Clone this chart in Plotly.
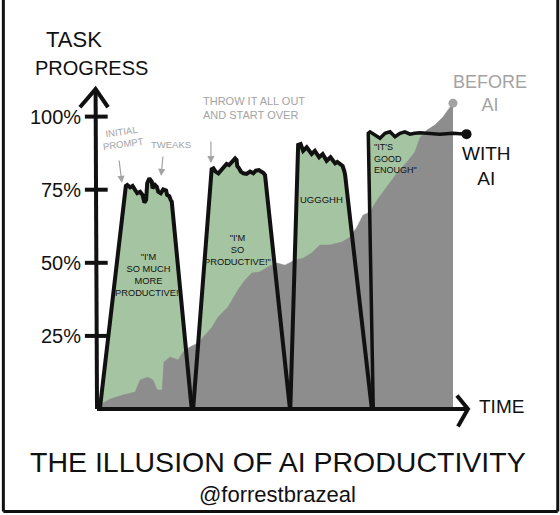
import plotly.graph_objects as go

# ---------------- data (time 0-100, task progress in %) ----------------
before_time = [0, 0.8, 3.7, 7.3, 10.7, 12.1, 14.3, 15.7, 16.9, 18.3, 18.8, 20.5, 22.8, 24.2,
               26.1, 28.4, 32.3, 34.0, 36.8, 39.6, 41.6, 43.5, 45.8, 48.0, 50.6, 52.8, 55.6,
               57.9, 60.4, 62.6, 65.4, 68.8, 71.1, 73.0, 74.7, 76.7, 78.7, 80.3, 82.3, 84.3,
               87.1, 89.3, 90.7, 92.7, 94.9, 97.2, 98.6, 99.7, 100]
before_progress = [0, 1.4, 3.4, 4.8, 5.8, 9.9, 10.9, 9.9, 6.5, 6.5, 16.1, 17.8, 16.8, 19.5,
                   21.2, 22.6, 28.0, 31.5, 34.9, 40.7, 44.1, 46.5, 46.9, 48.6, 49.9, 49.2, 51.0,
                   51.6, 53.4, 56.1, 56.1, 57.1, 58.8, 62.2, 66.3, 67.4, 71.5, 74.2, 77.6, 80.7,
                   84.5, 87.9, 92.7, 95.4, 97.1, 99.9, 102.3, 104.0, 104.6]

attempt1_time = [0.8, 8.1, 8.5, 9.3, 10.0, 10.7, 11.3, 12.1, 12.8, 13.3, 13.8, 14.1, 14.7, 15.4,
                 15.6, 16.3, 16.8, 17.2, 17.9, 18.6, 19.4, 19.7, 20.3, 20.7, 21.0, 26.6]
attempt1_progress = [0, 76.3, 76.6, 75.8, 76.3, 74.7, 73.8, 74.3, 73.2, 70.6, 71.5, 77.2, 78.9,
                     77.7, 75.5, 76.6, 76.0, 74.3, 73.8, 75.1, 74.7, 73.2, 72.8, 71.5, 70.9, 0]

attempt2_time = [27.0, 32.2, 32.7, 33.3, 34.1, 34.8, 35.8, 36.4, 37.1, 37.6, 38.3, 38.8, 39.2,
                 39.4, 39.9, 40.4, 41.1, 42.0, 43.0, 43.9, 44.6, 45.5, 46.1, 46.7, 47.2, 54.2]
attempt2_progress = [0, 82.0, 82.3, 81.2, 80.6, 81.7, 82.9, 83.8, 83.4, 84.2, 84.9, 85.7, 85.2,
                     83.1, 82.3, 81.2, 80.6, 80.4, 81.2, 80.6, 81.5, 81.7, 81.2, 80.8, 80.0, 0]

attempt3_time = [54.3, 56.5, 57.2, 57.9, 58.9, 60.3, 61.2, 62.4, 63.4, 64.5, 65.6, 66.9, 67.5,
                 68.3, 69.0, 69.5, 69.7, 77.2]
attempt3_progress = [0, 90.3, 90.6, 88.3, 89.5, 87.2, 88.3, 86.1, 87.2, 84.9, 86.1, 84.0, 84.5,
                     83.8, 83.1, 81.2, 80.0, 0]

attempt4_time = [77.6, 76.2, 76.7, 78.1, 79.5, 80.9, 82.3, 83.7, 85.1, 86.5, 87.9, 89.3, 90.7,
                 92.6, 96.3, 100.1, 103.8]
attempt4_progress = [0, 94.3, 94.8, 93.7, 92.6, 94.3, 94.8, 93.1, 94.3, 94.8, 94.0, 94.3, 94.5,
                     94.3, 94.0, 94.3, 94.0]

tick_values = [25, 50, 75, 100]
tick_labels = ["25%", "50%", "75%", "100%"]

GREEN = "#a5c4a1"
GRAY = "#8d8d8d"
LGRAY = "#a3a3a3"
INK = "#111111"
FONT = "Liberation Sans, Arial, sans-serif"

fig = go.Figure()

# green "with AI" areas
for tt, pp in [(attempt1_time, attempt1_progress), (attempt2_time, attempt2_progress),
               (attempt3_time, attempt3_progress)]:
    fig.add_trace(go.Scatter(x=tt, y=pp, mode="lines", fill="toself", fillcolor=GREEN,
                             line=dict(width=0), hoverinfo="skip"))
g4 = [(t, p) for t, p in zip(attempt4_time, attempt4_progress) if t <= 92.6]
fig.add_trace(go.Scatter(x=[a for a, _ in g4], y=[b for _, b in g4], mode="lines",
                         fill="tozeroy", fillcolor=GREEN, line=dict(width=0), hoverinfo="skip"))

# gray "before AI" area
fig.add_trace(go.Scatter(x=before_time, y=before_progress, mode="lines", fill="tozeroy",
                         fillcolor=GRAY, line=dict(width=0.5, color=GRAY), hoverinfo="skip"))
fig.add_trace(go.Scatter(x=[before_time[-1]], y=[before_progress[-1]], mode="markers",
                         marker=dict(size=9, color=LGRAY), hoverinfo="skip"))

# black outlines of the attempts
for tt, pp in [(attempt1_time, attempt1_progress), (attempt2_time, attempt2_progress),
               (attempt3_time, attempt3_progress)]:
    fig.add_trace(go.Scatter(x=tt, y=pp, mode="lines", line=dict(width=4, color=INK),
                             hoverinfo="skip"))
fig.add_trace(go.Scatter(x=attempt4_time, y=attempt4_progress, mode="lines",
                         line=dict(width=3.5, color=INK), hoverinfo="skip"))
fig.add_trace(go.Scatter(x=[attempt4_time[-1]], y=[attempt4_progress[-1]], mode="markers",
                         marker=dict(size=10, color=INK), hoverinfo="skip"))

# axes (hand-drawn style)
shapes = [
    dict(type="line", x0=0, y0=0, x1=-0.4, y1=109.4, line=dict(color=INK, width=4)),
    dict(type="path", path="M -4.8,103.2 L -0.4,109.4 L 3.1,103.2", line=dict(color=INK, width=4)),
    dict(type="line", x0=0, y0=0, x1=104.0, y1=0, line=dict(color=INK, width=4)),
    dict(type="path", path="M 101.1,4.6 L 104.2,0 L 101.4,-6.0", line=dict(color=INK, width=4)),
]
for v in tick_values:
    shapes.append(dict(type="line", x0=-3.4, y0=v, x1=3.0, y1=v, line=dict(color=INK, width=4)))
# frame
for x0, y0, x1, y1 in [(0.006, 0.007, 0.006, 1), (0.996, 0.007, 0.996, 1), (0.006, 0.007, 0.996, 0.007)]:
    shapes.append(dict(type="line", xref="paper", yref="paper", x0=x0, y0=y0, x1=x1, y1=y1,
                       line=dict(color=INK, width=3)))

ann = []
for v, lab in zip(tick_values, tick_labels):
    ann.append(dict(x=-3.8, y=v, text=lab, xanchor="right", yanchor="middle", showarrow=False,
                    font=dict(size=20, color=INK, family=FONT)))

def txt(x, y, s, size, color=INK, xa="center", align="center", angle=0):
    ann.append(dict(x=x, y=y, text=s, xanchor=xa, yanchor="middle", showarrow=False,
                    align=align, textangle=angle, font=dict(size=size, color=color, family=FONT)))

txt(-6.5, 126.5, "TASK", 22)
txt(-1.5, 116.5, "PROGRESS", 20)
txt(106.8, 0.8, "TIME", 19, xa="left")
txt(110.5, 107.8, "BEFORE<br>AI", 18, color=LGRAY)
txt(109.4, 83.0, "WITH<br>AI", 19)
txt(7.3, 92.7, "INITIAL<br>PROMPT", 9.5, color=LGRAY, angle=-8)
txt(20.8, 90.6, "TWEAKS", 9.5, color=LGRAY)
txt(29.3, 102.8, "THROW IT ALL OUT<br>AND START OVER", 11, color=LGRAY, xa="left", align="left")
txt(14.4, 46.0, "\"I'M<br>SO MUCH<br>MORE<br>PRODUCTIVE!\"", 9.3)
txt(39.6, 54.4, "\"I'M<br>SO<br>PRODUCTIVE!\"", 9.3)
txt(63.2, 71.5, "UGGGHH", 9.5)
txt(77.3, 85.6, "\"IT'S<br>GOOD<br>ENOUGH\"", 9, xa="left", align="left")

# gray pointer arrows
for x, y, ax, ay in [(7.0, 77.3, -3, -24), (18.0, 79.7, 2, -21), (32.0, 84.1, 0, -23)]:
    ann.append(dict(x=x, y=y, ax=ax, ay=ay, text="", showarrow=True, arrowhead=2,
                    arrowsize=1.2, arrowwidth=1.2, arrowcolor=LGRAY))

ann.append(dict(xref="paper", yref="paper", x=0.497, y=0.103, text="THE ILLUSION OF AI PRODUCTIVITY",
                showarrow=False, xanchor="center", yanchor="middle",
                font=dict(size=28.5, color=INK, family=FONT)))
ann.append(dict(xref="paper", yref="paper", x=0.495, y=0.04, text="@forrestbrazeal",
                showarrow=False, xanchor="center", yanchor="middle",
                font=dict(size=22, color=INK, family=FONT)))

fig.update_layout(
    width=560, height=515, margin=dict(l=0, r=0, t=0, b=0),
    paper_bgcolor="white", plot_bgcolor="white", showlegend=False,
    xaxis=dict(range=[-27.25, 130.06], visible=False, fixedrange=True),
    yaxis=dict(range=[-36.25, 139.88], visible=False, fixedrange=True),
    shapes=shapes, annotations=ann,
)

fig.write_html("out.html", config={"displayModeBar": False, "staticPlot": True},
               post_script="document.body.style.margin='0';document.body.style.overflow='hidden';")
